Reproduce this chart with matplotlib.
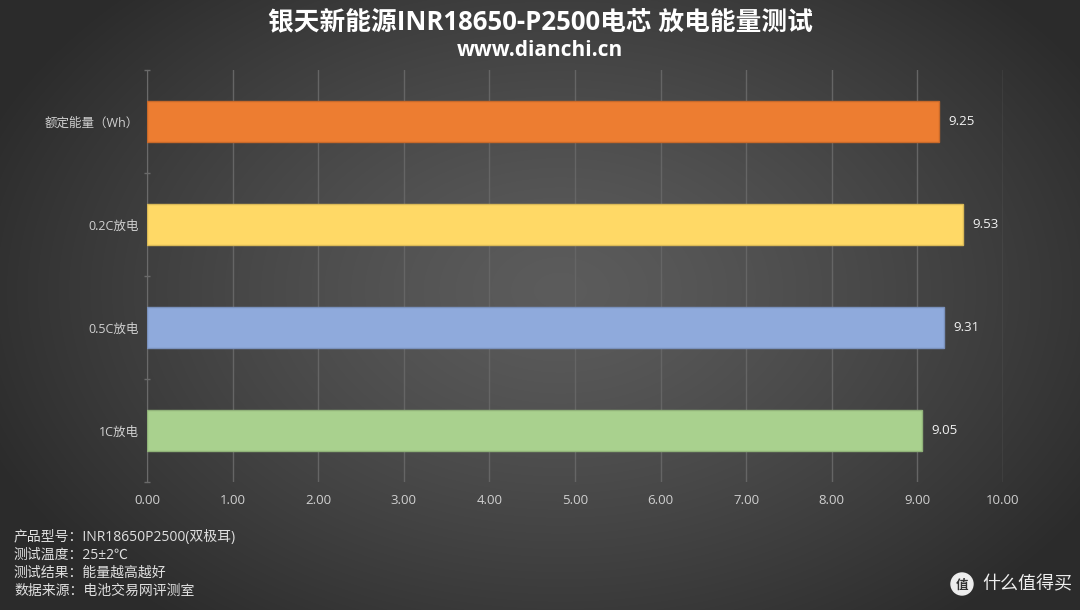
import numpy as np
import matplotlib
matplotlib.use("Agg")
import matplotlib.pyplot as plt
from matplotlib.patches import Circle

plt.rcParams['font.family'] = ['Open Sans', 'Noto Sans CJK SC', 'DejaVu Sans']

# chart data
categories = ["额定能量（Wh）", "0.2C放电", "0.5C放电", "1C放电"]
values = [9.25, 9.53, 9.31, 9.05]
bar_colors = ["#ED7D31", "#FFD966", "#8FAADC", "#A9D18E"]
edge_colors = ["#C8692A", "#D9B957", "#7A91BC", "#90B279"]
x_ticks = [0, 1, 2, 3, 4, 5, 6, 7, 8, 9, 10]

title = "银天新能源INR18650-P2500电芯 放电能量测试"
subtitle = "www.dianchi.cn"
notes = ["产品型号：INR18650P2500(双极耳)",
         "测试温度：25±2℃",
         "测试结果：能量越高越好",
         "数据来源：电池交易网评测室"]

W, H = 1080, 610
fig = plt.figure(figsize=(W / 100, H / 100), dpi=100)

# radial gradient background
bg = fig.add_axes([0, 0, 1, 1])
yy, xx = np.mgrid[0:H, 0:W]
r = np.sqrt(((xx - 560) / 620.0) ** 2 + ((yy - 290) / 420.0) ** 2)
r = np.clip(r, 0, 1)
c0, c1 = 0.36, 0.17
shade = c0 + (c1 - c0) * r ** 1.3
img = np.dstack([shade, shade, shade])
bg.imshow(img, aspect='auto', extent=[0, W, H, 0])
bg.set_xlim(0, W)
bg.set_ylim(H, 0)
bg.axis('off')

# main axes: x from 147 to 1003 px, y from 70 to 482 px
left, right, top, bottom = 147, 1003, 70, 482
ax = fig.add_axes([left / W, 1 - bottom / H, (right - left) / W, (bottom - top) / H])
ax.patch.set_alpha(0)

n = len(categories)
ypos = np.arange(n)
ax.barh(ypos, values, height=0.4, color=bar_colors, edgecolor=edge_colors,
        linewidth=1, zorder=3)
ax.set_ylim(n - 0.5, -0.5)
ax.set_xlim(0, 10)

for y, v in zip(ypos, values):
    ax.text(v + 0.11, y, f"{v:.2f}", va='center', ha='left',
            color='#f2f2f2', fontsize=9.5, zorder=4)

ax.set_xticks(x_ticks)
ax.set_xticklabels([f"{t:.2f}" for t in x_ticks])
ax.grid(axis='x', color='#656565', linewidth=1, zorder=0)
ax.tick_params(axis='x', length=0, colors='#d0d0d0', labelsize=9.5, pad=9)

ax.set_yticks(ypos)
ax.set_yticklabels(categories)
ax.set_yticks(np.arange(n + 1) - 0.5, minor=True)
ax.tick_params(axis='y', which='major', length=0, colors='#d0d0d0', labelsize=9, pad=6)
ax.tick_params(axis='y', which='minor', length=5, color='#6a6a6a', direction='inout', width=1)

for s in ['top', 'right', 'bottom']:
    ax.spines[s].set_visible(False)
ax.spines['left'].set_color('#6a6a6a')

# titles
fig.text(0.5, 1 - 22 / H, title, ha='center', va='center', color='white',
         fontsize=18.5, fontweight='bold')
fig.text(0.5, 1 - 50 / H, subtitle, ha='center', va='center', color='white',
         fontsize=15, fontweight='bold')

# footnotes
for i, line in enumerate(notes):
    fig.text(14 / W, 1 - (537 + i * 18) / H, line, ha='left', va='center',
             color='#e0e0e0', fontsize=10)

# watermark
bg.add_patch(Circle((962, 584), 11, color='#eeeeee', zorder=5))
bg.text(962, 585, "值", ha='center', va='center', color='#333333',
        fontsize=9, fontweight='bold', zorder=6)
bg.text(982, 584, "什么值得买", ha='left', va='center', color='#eeeeee',
        fontsize=13, zorder=6)

fig.savefig("out.png", dpi=100)
